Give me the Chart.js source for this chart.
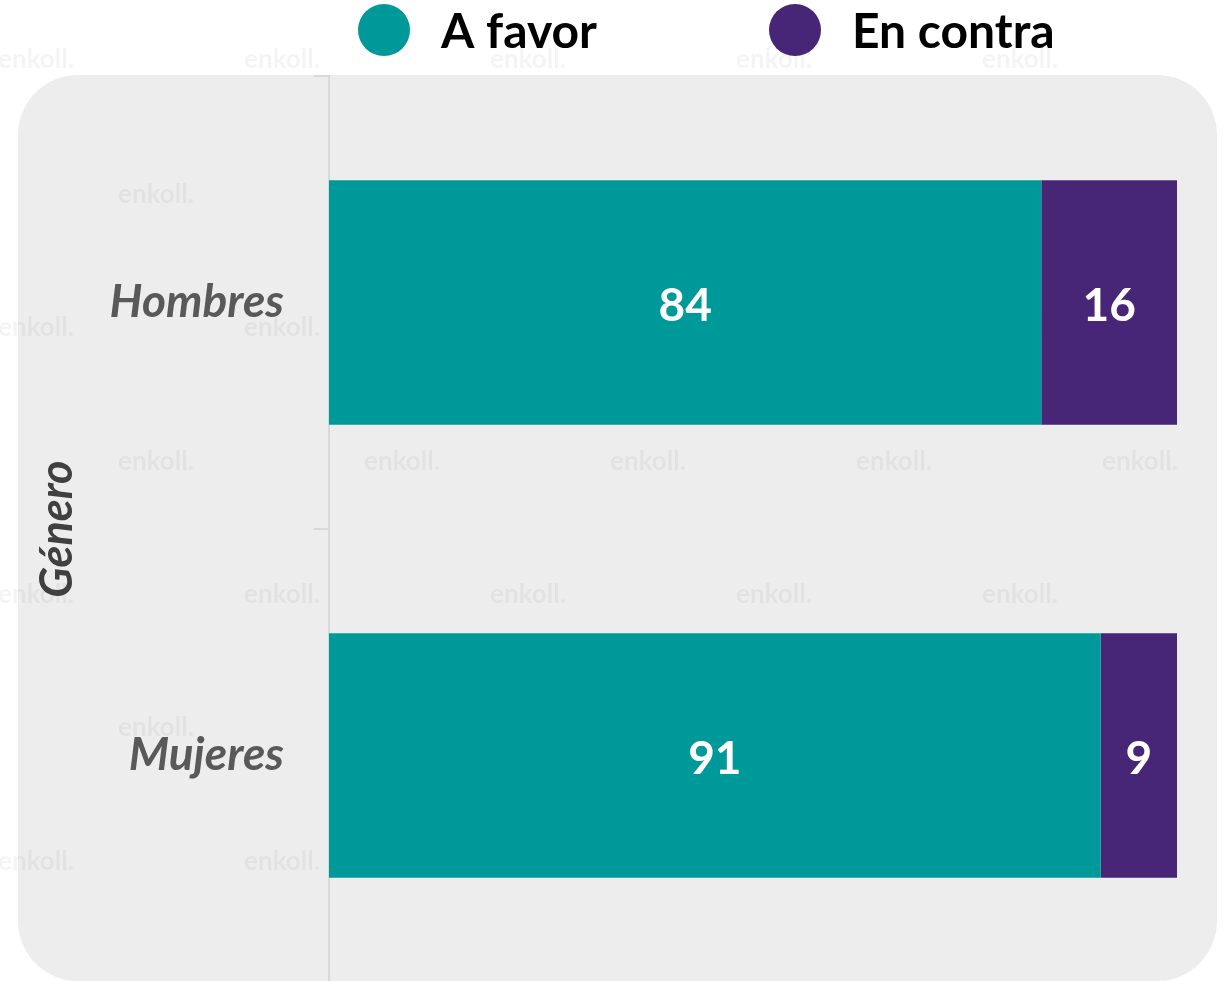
<!DOCTYPE html>
<html>
<head>
<meta charset="utf-8">
<script src="https://cdn.jsdelivr.net/npm/chart.js@4"></script>
<style>
  html, body { margin: 0; padding: 0; background: #ffffff; overflow: hidden; }
  #wrap { position: relative; width: 1230px; height: 984px; }
</style>
</head>
<body>
<div id="wrap"><canvas id="c"></canvas></div>
<script>
const categories = ['Hombres', 'Mujeres'];
const seriesNames = ['A favor', 'En contra'];
const aFavor = [84, 91];
const enContra = [16, 9];
const axisTitle = 'Género';
const watermarkText = 'enkoll.';

const colors = ['#009999', '#472577'];
const FONT = 'Lato, "Open Sans", sans-serif';

const panelPlugin = {
  id: 'panel',
  beforeDraw(chart) {
    const ctx = chart.ctx;
    ctx.save();
    const x = 18, y = 75, w = 1199, h = 906, r = 60;
    ctx.fillStyle = '#EDEDED';
    ctx.beginPath();
    ctx.moveTo(x + r, y);
    ctx.lineTo(x + w - r, y);
    ctx.arcTo(x + w, y, x + w, y + r, r);
    ctx.lineTo(x + w, y + h - r);
    ctx.arcTo(x + w, y + h, x + w - r, y + h, r);
    ctx.lineTo(x + r, y + h);
    ctx.arcTo(x, y + h, x, y + h - r, r);
    ctx.lineTo(x, y + r);
    ctx.arcTo(x, y, x + r, y, r);
    ctx.closePath();
    ctx.fill();
    ctx.font = 'bold 26px ' + FONT;
    ctx.fillStyle = 'rgba(0,0,0,0.045)';
    ctx.textAlign = 'center';
    ctx.textBaseline = 'middle';
    const rowsY = [60, 195, 328, 462, 595, 728, 862];
    rowsY.forEach((ry, i) => {
      const startX = (i % 2 === 0) ? 36 : 156;
      for (let cx = startX; cx < 1260; cx += 246) {
        ctx.fillText(watermarkText, cx, ry);
      }
    });
    ctx.restore();
  }
};

const legendPlugin = {
  id: 'customLegend',
  afterDraw(chart) {
    const ctx = chart.ctx;
    ctx.save();
    const starts = [358, 769];
    chart.data.datasets.forEach((ds, i) => {
      const x0 = starts[i];
      ctx.fillStyle = ds.backgroundColor;
      ctx.beginPath();
      ctx.arc(x0 + 26, 30, 26, 0, Math.PI * 2);
      ctx.fill();
      ctx.fillStyle = '#000000';
      ctx.font = 'bold 48px ' + FONT;
      ctx.textAlign = 'left';
      ctx.textBaseline = 'alphabetic';
      ctx.fillText(ds.label, x0 + 83, 48);
    });
    ctx.restore();
  }
};

const labelsPlugin = {
  id: 'barLabels',
  afterDatasetsDraw(chart) {
    const ctx = chart.ctx;
    ctx.save();
    ctx.font = 'bold 46px ' + FONT;
    ctx.fillStyle = '#ffffff';
    ctx.textAlign = 'center';
    ctx.textBaseline = 'alphabetic';
    chart.data.datasets.forEach((ds, di) => {
      const meta = chart.getDatasetMeta(di);
      meta.data.forEach((bar, i) => {
        const cx = (bar.x + bar.base) / 2;
        ctx.fillText(String(ds.data[i]), cx, bar.y + 46 * 0.4);
      });
    });
    ctx.restore();
  }
};

new Chart(document.getElementById('c'), {
  type: 'bar',
  data: {
    labels: categories,
    datasets: [
      { label: seriesNames[0], data: aFavor, backgroundColor: colors[0], borderWidth: 0 },
      { label: seriesNames[1], data: enContra, backgroundColor: colors[1], borderWidth: 0 }
    ]
  },
  options: {
    indexAxis: 'y',
    responsive: true,
    maintainAspectRatio: false,
    animation: false,
    layout: { padding: { top: 76, right: 53, bottom: 2, left: 0 } },
    datasets: { bar: { barPercentage: 0.54, categoryPercentage: 1.0 } },
    plugins: { legend: { display: false }, tooltip: { enabled: false } },
    scales: {
      x: { stacked: true, min: 0, max: 100, display: false },
      y: {
        stacked: true,
        offset: true,
        afterFit(scale) { scale.width = 329; scale.paddingTop = 0; scale.paddingBottom = 0; },
        border: { display: true, color: '#D9D9D9', width: 2 },
        grid: { offset: true, drawOnChartArea: false, drawTicks: true, tickLength: 15, color: '#D9D9D9', lineWidth: 2 },
        ticks: { padding: 30, color: '#595959', font: { family: FONT, size: 46, weight: 'bold', style: 'italic' } },
        title: {
          display: true,
          text: axisTitle,
          color: '#404040',
          padding: { top: 30, bottom: 0 },
          font: { family: FONT, size: 45, weight: 'bold', style: 'italic' }
        }
      }
    }
  },
  plugins: [panelPlugin, legendPlugin, labelsPlugin]
});
</script>
</body>
</html>
